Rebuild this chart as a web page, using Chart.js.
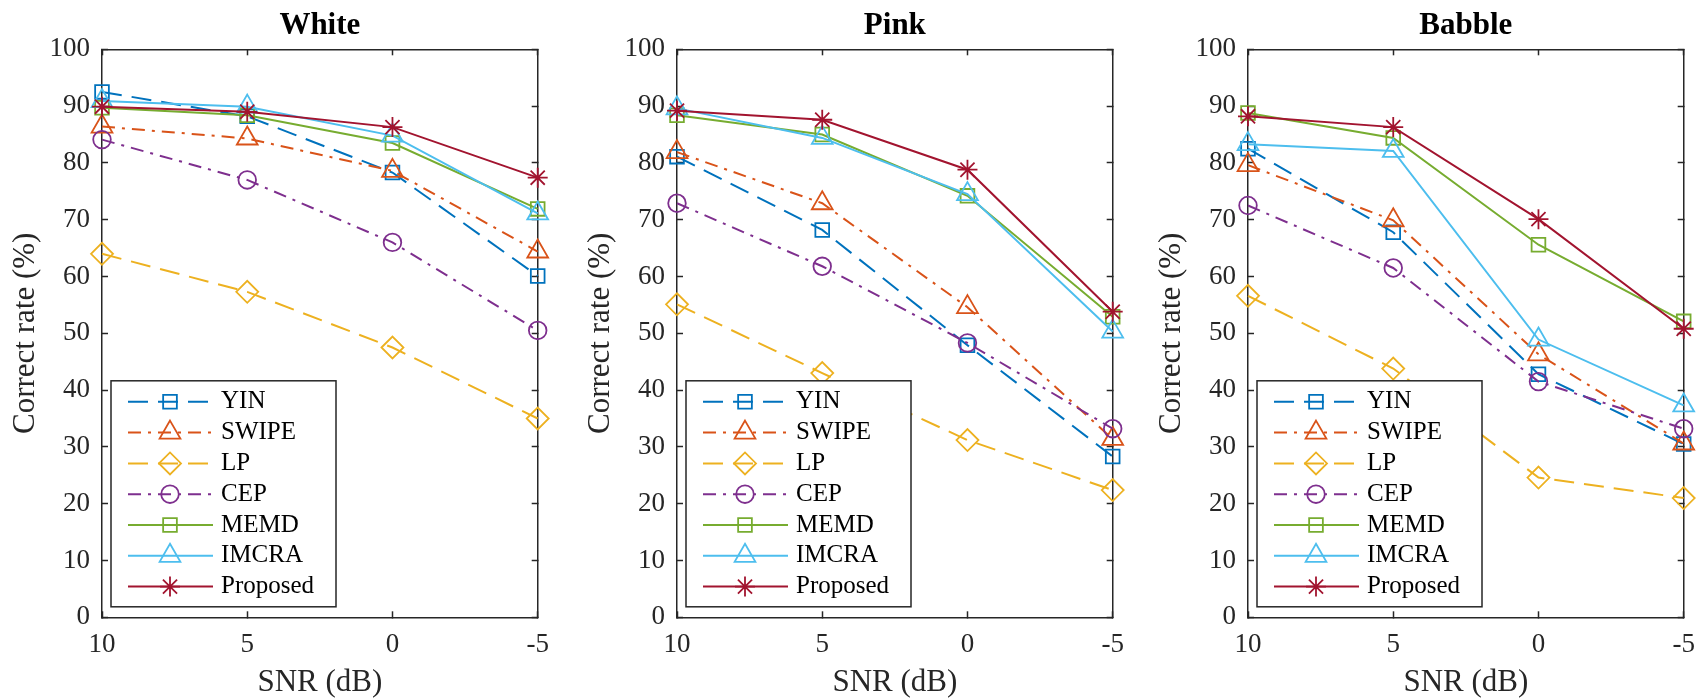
<!DOCTYPE html>
<html>
<head>
<meta charset="utf-8">
<script src="https://cdn.jsdelivr.net/npm/chart.js@4.4.1/dist/chart.umd.min.js"></script>
<style>
  body { margin: 0; width: 1699px; height: 699px; overflow: hidden; background: #fff; position: relative; }
  canvas { position: absolute; top: 0; }
</style>
</head>
<body>
<canvas id="white" width="580" height="699" style="left:0px"></canvas>
<canvas id="pink" width="580" height="699" style="left:575px"></canvas>
<canvas id="babble" width="580" height="699" style="left:1146px"></canvas>
<script>
const snrLabels = ["10", "5", "0", "-5"];
const methods = ["YIN", "SWIPE", "LP", "CEP", "MEMD", "IMCRA", "Proposed"];

// White noise
const whiteYIN = [92.5, 88.2, 78.3, 60.1];
const whiteSWIPE = [86.4, 84.3, 78.6, 64.4];
const whiteLP = [64.0, 57.3, 47.5, 35.0];
const whiteCEP = [84.1, 77.0, 66.0, 50.5];
const whiteMEMD = [89.7, 88.4, 83.5, 71.9];
const whiteIMCRA = [90.9, 89.9, 84.8, 71.1];
const whiteProposed = [89.9, 89.0, 86.3, 77.4];

// Pink noise
const pinkYIN = [81.1, 68.2, 47.9, 28.3];
const pinkSWIPE = [81.9, 72.9, 54.6, 31.4];
const pinkLP = [55.1, 43.0, 31.2, 22.4];
const pinkCEP = [72.9, 61.8, 48.3, 33.2];
const pinkMEMD = [88.4, 85.0, 74.2, 52.9];
const pinkIMCRA = [89.6, 84.4, 74.5, 50.3];
const pinkProposed = [89.2, 87.6, 78.8, 53.8];

// Babble noise
const babbleYIN = [82.5, 67.8, 42.8, 30.5];
const babbleSWIPE = [79.6, 69.9, 46.3, 30.6];
const babbleLP = [56.6, 43.8, 24.6, 21.0];
const babbleCEP = [72.5, 61.5, 41.5, 33.2];
const babbleMEMD = [88.8, 84.4, 65.6, 52.1];
const babbleIMCRA = [83.3, 82.1, 48.9, 37.3];
const babbleProposed = [88.2, 86.3, 70.1, 50.8];

// styles (MATLAB default colour order)
const colors = ["#0072BD", "#D95319", "#EDB120", "#7E2F8E", "#77AC30", "#4DBEEE", "#A2142F"];
const dashes = [[20, 10], [13, 7, 3, 7], [20, 10], [13, 7, 3, 7], [], [], []];
const markers = ["rect", "triangle", "rectRot", "circle", "rect", "triangle", "star"];
const markerSize = [9.7, 12, 11, 8.8, 9.7, 12, 10];

const serif = "'Liberation Serif', 'Times New Roman', serif";
const axisColor = "#262626";

// legend box drawn inside the axes, like MATLAB's 'southwest' legend
const boxLegend = {
  id: "boxLegend",
  afterDraw(chart) {
    const ctx = chart.ctx;
    const area = chart.chartArea;
    const w = 225, h = 226;
    const x0 = area.left + 9;
    const y0 = area.bottom - 10.5 - h;
    ctx.save();
    ctx.fillStyle = "#fff";
    ctx.fillRect(x0, y0, w, h);
    ctx.strokeStyle = axisColor;
    ctx.lineWidth = 1.5;
    ctx.strokeRect(x0, y0, w, h);
    chart.data.datasets.forEach((ds, i) => {
      const y = y0 + 21 + i * 30.8;
      ctx.strokeStyle = ds.borderColor;
      ctx.lineWidth = ds.borderWidth;
      ctx.setLineDash(ds.borderDash);
      ctx.beginPath();
      ctx.moveTo(x0 + 17, y);
      ctx.lineTo(x0 + 102, y);
      ctx.stroke();
      ctx.setLineDash([]);
      ctx.fillStyle = "rgba(0,0,0,0)";
      ctx.lineWidth = ds.pointBorderWidth;
      Chart.helpers.drawPoint(ctx, {
        pointStyle: ds.pointStyle,
        radius: ds.pointRadius,
        borderWidth: ds.pointBorderWidth,
        rotation: 0
      }, x0 + 59, y);
      ctx.fillStyle = "#000";
      ctx.font = "25px " + serif;
      ctx.textBaseline = "middle";
      ctx.textAlign = "left";
      ctx.fillText(ds.label, x0 + 110, y);
    });
    ctx.restore();
  }
};

function makePanel(id, title, series) {
  const datasets = methods.map((m, i) => ({
    label: m,
    data: series[i],
    borderColor: colors[i],
    borderWidth: 2,
    borderDash: dashes[i],
    pointStyle: markers[i],
    pointRadius: markerSize[i],
    pointBorderWidth: 1.8,
    pointBorderColor: colors[i],
    pointBackgroundColor: "rgba(0,0,0,0)",
    fill: false,
    tension: 0,
    order: methods.length - i
  }));

  const tickGrid = { drawOnChartArea: false, color: axisColor, tickLength: -6, tickWidth: 1.5 };
  const border = { display: true, color: axisColor, width: 1.5 };

  return new Chart(document.getElementById(id), {
    type: "line",
    data: { labels: snrLabels, datasets: datasets },
    options: {
      responsive: false,
      animation: false,
      devicePixelRatio: 1,
      // right padding larger than the x labels' own padding, so it sets the plot edge
      layout: { padding: { left: 0, right: 42.3, top: 0, bottom: 0 } },
      plugins: {
        legend: { display: false },
        tooltip: { enabled: false },
        title: {
          display: true,
          text: title,
          fullSize: false,
          color: "#000",
          font: { family: serif, size: 31, weight: "bold", lineHeight: 1 },
          padding: { top: 10.7, bottom: 7.6 }
        }
      },
      scales: {
        x: {
          type: "category",
          position: "bottom",
          offset: false,
          grid: tickGrid,
          border: border,
          ticks: { color: axisColor, font: { family: serif, size: 27, lineHeight: 1 }, padding: 20, maxRotation: 0, autoSkip: false },
          title: {
            display: true,
            text: "SNR (dB)",
            color: axisColor,
            font: { family: serif, size: 31, lineHeight: 1 },
            padding: { top: 0, bottom: 1 }
          },
          afterFit: s => { s.height = 81.7; }
        },
        x2: {
          type: "category",
          position: "top",
          offset: false,
          grid: tickGrid,
          border: border,
          ticks: { display: false },
          afterFit: s => { s.height = 0; }
        },
        y: {
          min: 0,
          max: 100,
          grid: tickGrid,
          border: border,
          ticks: { stepSize: 10, color: axisColor, font: { family: serif, size: 27, lineHeight: 1 }, padding: 18 },
          title: {
            display: true,
            text: "Correct rate (%)",
            color: axisColor,
            font: { family: serif, size: 31, lineHeight: 1 },
            padding: { top: 10.5, bottom: 0 }
          },
          afterFit: s => { s.width = 102; }
        },
        y2: {
          position: "right",
          min: 0,
          max: 100,
          grid: tickGrid,
          border: border,
          ticks: { display: false, stepSize: 10 },
          afterFit: s => { s.width = 0; }
        }
      }
    },
    plugins: [boxLegend]
  });
}

makePanel("white", "White", [whiteYIN, whiteSWIPE, whiteLP, whiteCEP, whiteMEMD, whiteIMCRA, whiteProposed]);
makePanel("pink", "Pink", [pinkYIN, pinkSWIPE, pinkLP, pinkCEP, pinkMEMD, pinkIMCRA, pinkProposed]);
makePanel("babble", "Babble", [babbleYIN, babbleSWIPE, babbleLP, babbleCEP, babbleMEMD, babbleIMCRA, babbleProposed]);
</script>
</body>
</html>
